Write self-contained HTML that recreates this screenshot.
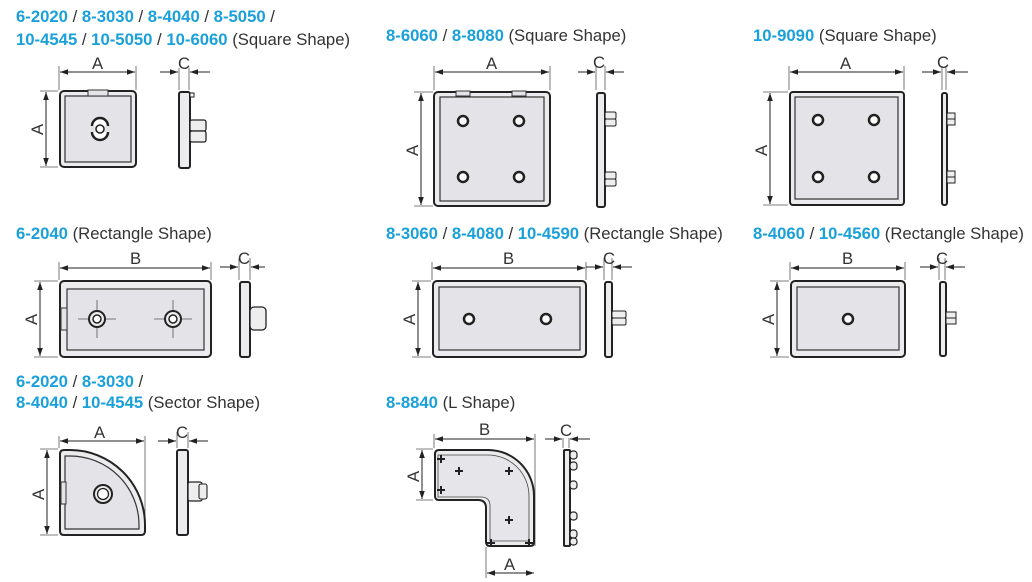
<!DOCTYPE html>
<html><head><meta charset="utf-8"><style>
html,body{margin:0;padding:0;background:#fff;}
svg{display:block;}
.c{fill:#1aa0da;font-weight:bold;}
text{font-family:"Liberation Sans",Arial,sans-serif;font-size:16.7px;fill:#333;}
.d{stroke:#222;stroke-width:1;fill:none;}
.e{stroke:#555;stroke-width:0.8;fill:none;}
.o{fill:#ececef;stroke:#222;stroke-width:2;}
.i{fill:#e4e4e8;stroke:#333;stroke-width:1.2;}
.h{fill:#fff;stroke:#222;stroke-width:2.5;}
</style></head><body>
<svg width="1032" height="582" viewBox="0 0 1032 582" xmlns="http://www.w3.org/2000/svg">
<defs>
<marker id="a" viewBox="0 0 10 10" refX="10" refY="5" markerWidth="10" markerHeight="8" orient="auto-start-reverse" markerUnits="userSpaceOnUse"><path d="M0,1.5 L10,5 L0,8.5 Z" fill="#222"/></marker>
</defs>

<!-- Section 1 -->
<text x="16" y="22"><tspan class="c">6-2020</tspan> / <tspan class="c">8-3030</tspan> / <tspan class="c">8-4040</tspan> / <tspan class="c">8-5050</tspan> /</text>
<text x="16" y="45"><tspan class="c">10-4545</tspan> / <tspan class="c">10-5050</tspan> / <tspan class="c">10-6060</tspan> (Square Shape)</text>
<line class="e" x1="59" y1="66" x2="59" y2="90"/><line class="e" x1="136" y1="66" x2="136" y2="90"/>
<line class="d" x1="60" y1="72" x2="135" y2="72" marker-start="url(#a)" marker-end="url(#a)"/>
<text x="92" y="69">A</text>
<line class="e" x1="40" y1="91" x2="58" y2="91"/><line class="e" x1="40" y1="167" x2="58" y2="167"/>
<line class="d" x1="46" y1="92" x2="46" y2="166" marker-start="url(#a)" marker-end="url(#a)"/>
<text x="0" y="0" transform="translate(43,135) rotate(-90)">A</text>
<rect class="o" x="60" y="91" width="76" height="76" rx="4"/>
<rect class="i" x="65" y="96" width="66" height="66"/>
<rect x="88" y="90" width="20" height="6" fill="#e4e4e8" stroke="#333" stroke-width="1"/>
<path d="M92,126 a8,8 0 0 1 16,0 M92,132 a8,8 0 0 0 16,0" class="h" fill="none"/>
<circle cx="100" cy="129" r="4" fill="#fff" stroke="#222" stroke-width="1.5"/>
<line class="e" x1="179" y1="68" x2="179" y2="90"/><line class="e" x1="189" y1="68" x2="189" y2="90"/>
<line class="d" x1="160" y1="72" x2="178" y2="72" marker-end="url(#a)"/>
<line class="d" x1="210" y1="72" x2="190" y2="72" marker-end="url(#a)"/>
<text x="178" y="69">C</text>
<rect class="o" x="179" y="92" width="11" height="76" rx="2"/>
<rect x="190" y="93" width="4" height="4" fill="#fff" stroke="#222"/>
<rect x="190" y="120" width="16" height="11" rx="2" fill="#eee" stroke="#222" stroke-width="1.3"/>
<rect x="190" y="131" width="16" height="11" rx="2" fill="#eee" stroke="#222" stroke-width="1.3"/>

<!-- Section 2 -->
<text x="386" y="41"><tspan class="c">8-6060</tspan> / <tspan class="c">8-8080</tspan> (Square Shape)</text>
<line class="e" x1="434" y1="66" x2="434" y2="90"/><line class="e" x1="550" y1="66" x2="550" y2="90"/>
<line class="d" x1="435" y1="72" x2="549" y2="72" marker-start="url(#a)" marker-end="url(#a)"/>
<text x="486" y="69">A</text>
<line class="e" x1="414" y1="92" x2="433" y2="92"/><line class="e" x1="414" y1="206" x2="433" y2="206"/>
<line class="d" x1="421" y1="93" x2="421" y2="205" marker-start="url(#a)" marker-end="url(#a)"/>
<text transform="translate(418,156) rotate(-90)">A</text>
<rect class="o" x="434" y="92" width="116" height="114" rx="4"/>
<rect class="i" x="440" y="97" width="104" height="104"/>
<rect x="456" y="91" width="14" height="5" fill="#e4e4e8" stroke="#333"/>
<rect x="512" y="91" width="14" height="5" fill="#e4e4e8" stroke="#333"/>
<circle class="h" cx="463" cy="121" r="5"/><circle class="h" cx="519" cy="121" r="5"/>
<circle class="h" cx="463" cy="177" r="5"/><circle class="h" cx="519" cy="177" r="5"/>
<line class="e" x1="596" y1="66" x2="596" y2="90"/><line class="e" x1="605" y1="66" x2="605" y2="90"/>
<line class="d" x1="578" y1="72" x2="595" y2="72" marker-end="url(#a)"/>
<line class="d" x1="624" y1="72" x2="606" y2="72" marker-end="url(#a)"/>
<text x="593" y="68">C</text>
<rect class="o" x="597" y="93" width="8" height="114" rx="2"/>
<rect x="605" y="112" width="11" height="7" rx="1.5" fill="#eee" stroke="#222"/>
<rect x="605" y="119" width="11" height="7" rx="1.5" fill="#eee" stroke="#222"/>
<rect x="605" y="172" width="11" height="7" rx="1.5" fill="#eee" stroke="#222"/>
<rect x="605" y="179" width="11" height="7" rx="1.5" fill="#eee" stroke="#222"/>

<!-- Section 3 -->
<text x="753" y="41"><tspan class="c">10-9090</tspan> (Square Shape)</text>
<line class="e" x1="789" y1="66" x2="789" y2="90"/><line class="e" x1="904" y1="66" x2="904" y2="90"/>
<line class="d" x1="790" y1="72" x2="903" y2="72" marker-start="url(#a)" marker-end="url(#a)"/>
<text x="840" y="69">A</text>
<line class="e" x1="763" y1="92" x2="788" y2="92"/><line class="e" x1="763" y1="205" x2="788" y2="205"/>
<line class="d" x1="770" y1="93" x2="770" y2="204" marker-start="url(#a)" marker-end="url(#a)"/>
<text transform="translate(767,156) rotate(-90)">A</text>
<rect class="o" x="790" y="92" width="114" height="113" rx="3"/>
<rect class="i" x="795" y="97" width="103" height="102"/>
<circle class="h" cx="818" cy="120" r="5"/><circle class="h" cx="874" cy="120" r="5"/>
<circle class="h" cx="818" cy="177" r="5"/><circle class="h" cx="874" cy="177" r="5"/>
<line class="e" x1="942" y1="66" x2="942" y2="90"/><line class="e" x1="946" y1="66" x2="946" y2="90"/>
<line class="d" x1="922" y1="72" x2="941" y2="72" marker-end="url(#a)"/>
<line class="d" x1="968" y1="72" x2="947" y2="72" marker-end="url(#a)"/>
<text x="937" y="68">C</text>
<rect class="o" x="942" y="93" width="5" height="112" rx="2"/>
<rect x="947" y="113" width="8" height="6" fill="#eee" stroke="#222"/>
<rect x="947" y="119" width="8" height="6" fill="#eee" stroke="#222"/>
<rect x="947" y="171" width="8" height="6" fill="#eee" stroke="#222"/>
<rect x="947" y="177" width="8" height="6" fill="#eee" stroke="#222"/>

<!-- Row 2: 6-2040 -->
<text x="16" y="239"><tspan class="c">6-2040</tspan> (Rectangle Shape)</text>
<line class="e" x1="59" y1="262" x2="59" y2="280"/><line class="e" x1="211" y1="262" x2="211" y2="280"/>
<line class="d" x1="60" y1="268" x2="210" y2="268" marker-start="url(#a)" marker-end="url(#a)"/>
<text x="130" y="264">B</text>
<line class="e" x1="34" y1="281" x2="58" y2="281"/><line class="e" x1="34" y1="357" x2="58" y2="357"/>
<line class="d" x1="40" y1="282" x2="40" y2="356" marker-start="url(#a)" marker-end="url(#a)"/>
<text transform="translate(37,325) rotate(-90)">A</text>
<rect class="o" x="60" y="281" width="151" height="76" rx="4"/>
<rect class="i" x="67" y="289" width="137" height="61"/>
<rect x="61" y="308" width="6" height="22" fill="#e4e4e8" stroke="#333"/>
<g class="e"><line x1="78" y1="319" x2="116" y2="319"/><line x1="97" y1="300" x2="97" y2="338"/>
<line x1="154" y1="319" x2="192" y2="319"/><line x1="173" y1="300" x2="173" y2="338"/></g>
<circle cx="97" cy="319" r="8" fill="#eee" stroke="#222" stroke-width="2"/><circle cx="97" cy="319" r="4" fill="#fff" stroke="#222" stroke-width="1.5"/>
<circle cx="173" cy="319" r="8" fill="#eee" stroke="#222" stroke-width="2"/><circle cx="173" cy="319" r="4" fill="#fff" stroke="#222" stroke-width="1.5"/>
<line class="e" x1="239" y1="258" x2="239" y2="280"/><line class="e" x1="250" y1="258" x2="250" y2="280"/>
<line class="d" x1="220" y1="267" x2="238" y2="267" marker-end="url(#a)"/>
<line class="d" x1="265" y1="267" x2="251" y2="267" marker-end="url(#a)"/>
<text x="238" y="264">C</text>
<rect class="o" x="240" y="282" width="10" height="75" rx="2"/>
<rect x="250" y="307" width="16" height="23" rx="4" fill="#eee" stroke="#222" stroke-width="1.3"/>

<!-- 8-3060 -->
<text x="386" y="239"><tspan class="c">8-3060</tspan> / <tspan class="c">8-4080</tspan> / <tspan class="c">10-4590</tspan> (Rectangle Shape)</text>
<line class="e" x1="432" y1="262" x2="432" y2="280"/><line class="e" x1="586" y1="262" x2="586" y2="280"/>
<line class="d" x1="433" y1="268" x2="585" y2="268" marker-start="url(#a)" marker-end="url(#a)"/>
<text x="503" y="264">B</text>
<line class="e" x1="412" y1="281" x2="431" y2="281"/><line class="e" x1="412" y1="357" x2="431" y2="357"/>
<line class="d" x1="418" y1="282" x2="418" y2="356" marker-start="url(#a)" marker-end="url(#a)"/>
<text transform="translate(415,325) rotate(-90)">A</text>
<rect class="o" x="433" y="281" width="153" height="76" rx="4"/>
<rect class="i" x="439" y="287" width="141" height="63"/>
<circle class="h" cx="469" cy="319" r="5"/><circle class="h" cx="546" cy="319" r="5"/>
<line class="e" x1="604" y1="258" x2="604" y2="280"/><line class="e" x1="612" y1="258" x2="612" y2="280"/>
<line class="d" x1="586" y1="267" x2="603" y2="267" marker-end="url(#a)"/>
<line class="d" x1="632" y1="267" x2="613" y2="267" marker-end="url(#a)"/>
<text x="603" y="264">C</text>
<rect class="o" x="605" y="282" width="7" height="75" rx="2"/>
<rect x="612" y="311" width="14" height="7" rx="1.5" fill="#eee" stroke="#222"/>
<rect x="612" y="318" width="14" height="7" rx="1.5" fill="#eee" stroke="#222"/>

<!-- 8-4060 -->
<text x="753" y="239"><tspan class="c">8-4060</tspan> / <tspan class="c">10-4560</tspan> (Rectangle Shape)</text>
<line class="e" x1="790" y1="262" x2="790" y2="280"/><line class="e" x1="905" y1="262" x2="905" y2="280"/>
<line class="d" x1="791" y1="268" x2="904" y2="268" marker-start="url(#a)" marker-end="url(#a)"/>
<text x="842" y="264">B</text>
<line class="e" x1="770" y1="281" x2="789" y2="281"/><line class="e" x1="770" y1="357" x2="789" y2="357"/>
<line class="d" x1="777" y1="282" x2="777" y2="356" marker-start="url(#a)" marker-end="url(#a)"/>
<text transform="translate(774,325) rotate(-90)">A</text>
<rect class="o" x="791" y="281" width="114" height="76" rx="4"/>
<rect class="i" x="797" y="287" width="102" height="63"/>
<circle class="h" cx="848" cy="319" r="5"/>
<line class="e" x1="939" y1="258" x2="939" y2="280"/><line class="e" x1="945" y1="258" x2="945" y2="280"/>
<line class="d" x1="920" y1="267" x2="938" y2="267" marker-end="url(#a)"/>
<line class="d" x1="965" y1="267" x2="946" y2="267" marker-end="url(#a)"/>
<text x="936" y="264">C</text>
<rect class="o" x="940" y="282" width="6" height="74" rx="2"/>
<rect x="946" y="312" width="10" height="6" fill="#eee" stroke="#222"/>
<rect x="946" y="318" width="10" height="6" fill="#eee" stroke="#222"/>

<!-- Row 3: sector -->
<text x="16" y="387"><tspan class="c">6-2020</tspan> / <tspan class="c">8-3030</tspan> /</text>
<text x="16" y="408"><tspan class="c">8-4040</tspan> / <tspan class="c">10-4545</tspan> (Sector Shape)</text>
<line class="e" x1="59" y1="436" x2="59" y2="448"/><line class="e" x1="145" y1="436" x2="145" y2="520"/>
<line class="d" x1="60" y1="441" x2="144" y2="441" marker-start="url(#a)" marker-end="url(#a)"/>
<text x="94" y="438">A</text>
<line class="e" x1="40" y1="449" x2="58" y2="449"/><line class="e" x1="40" y1="535" x2="58" y2="535"/>
<line class="d" x1="47" y1="450" x2="47" y2="534" marker-start="url(#a)" marker-end="url(#a)"/>
<text transform="translate(44,500) rotate(-90)">A</text>
<path class="o" d="M60,454 q0,-4 4,-4 L70,450 A75,75 0 0 1 145,525 L145,531 q0,4 -4,4 L64,535 q-4,0 -4,-4 Z"/>
<path class="i" d="M65,456 L70,456 A69,69 0 0 1 139,525 L139,529 L65,529 Z"/>
<rect x="61" y="482" width="5" height="22" fill="#e4e4e8" stroke="#333"/>
<circle cx="103" cy="494" r="9" fill="#eee" stroke="#222" stroke-width="2"/><circle cx="103" cy="494" r="5.5" fill="#fff" stroke="#222" stroke-width="1.3"/>
<line class="e" x1="177" y1="432" x2="177" y2="448"/><line class="e" x1="188" y1="432" x2="188" y2="448"/>
<line class="d" x1="158" y1="441" x2="176" y2="441" marker-end="url(#a)"/>
<line class="d" x1="208" y1="441" x2="189" y2="441" marker-end="url(#a)"/>
<text x="176" y="438">C</text>
<rect class="o" x="177" y="450" width="11" height="85" rx="2"/>
<rect x="188" y="482" width="14" height="19" rx="2" fill="#eee" stroke="#222" stroke-width="1.3"/>
<rect x="199" y="484" width="8" height="15" rx="2" fill="#eee" stroke="#222" stroke-width="1.1"/>

<!-- L shape -->
<text x="386" y="408"><tspan class="c">8-8840</tspan> (L Shape)</text>
<line class="e" x1="434" y1="434" x2="434" y2="448"/><line class="e" x1="535" y1="434" x2="535" y2="546"/>
<line class="d" x1="435" y1="439" x2="534" y2="439" marker-start="url(#a)" marker-end="url(#a)"/>
<text x="479" y="435">B</text>
<line class="e" x1="416" y1="449" x2="433" y2="449"/><line class="e" x1="416" y1="500" x2="433" y2="500"/>
<line class="d" x1="422" y1="450" x2="422" y2="499" marker-start="url(#a)" marker-end="url(#a)"/>
<text transform="translate(419,482) rotate(-90)">A</text>
<path class="o" d="M435,454 q0,-4 4,-4 L488,450 A46,46 0 0 1 534,496 L534,542 q0,4 -4,4 L490,546 q-4,0 -4,-4 L486,508 q0,-8 -8,-8 L439,500 q-4,0 -4,-4 Z"/>
<path d="M438,455 L488,455 A41,41 0 0 1 529,496 L529,541 L490,541 L490,506 q0,-9 -9,-9 L438,497 Z" fill="#e6e6ea" stroke="#444" stroke-width="0.8"/>
<g stroke="#222" stroke-width="2">
<path d="M455,471 h8 M459,467 v8 M505,471 h8 M509,467 v8 M505,520 h8 M509,516 v8 M437,459 h8 M441,455 v8 M437,490 h8 M441,486 v8 M487,543 h8 M491,539 v8 M525,543 h8 M529,539 v8"/>
</g>
<line class="e" x1="486" y1="547" x2="486" y2="578"/>
<line class="d" x1="487" y1="573" x2="534" y2="573" marker-start="url(#a)" marker-end="url(#a)"/>
<text x="504" y="570">A</text>
<line class="e" x1="563" y1="438" x2="563" y2="448"/><line class="e" x1="569" y1="438" x2="569" y2="448"/>
<line class="d" x1="545" y1="439" x2="562" y2="439" marker-end="url(#a)"/>
<line class="d" x1="590" y1="439" x2="570" y2="439" marker-end="url(#a)"/>
<text x="560" y="436">C</text>
<rect class="o" x="564" y="450" width="6" height="96" rx="1"/>
<g fill="#eee" stroke="#222" stroke-width="1.2">
<rect x="570" y="451" width="7" height="8" rx="3"/><rect x="570" y="462" width="7" height="8" rx="3"/>
<rect x="570" y="481" width="7" height="8" rx="3"/><rect x="570" y="512" width="7" height="8" rx="3"/>
<rect x="570" y="530" width="7" height="8" rx="3"/><rect x="570" y="538" width="7" height="7" rx="3"/>
</g>
</svg>
</body></html>
